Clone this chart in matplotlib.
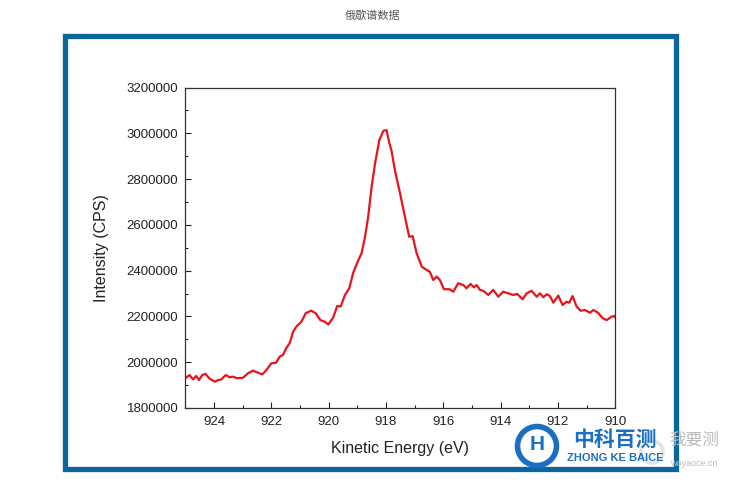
import matplotlib
matplotlib.use("Agg")
import matplotlib.pyplot as plt
from matplotlib.patches import Rectangle, Circle
from matplotlib.ticker import MultipleLocator

plt.rcParams['font.family'] = ['Liberation Sans', 'Noto Sans CJK SC', 'DejaVu Sans']

# Auger spectrum
energy = [925.00, 924.85, 924.73, 924.62, 924.52, 924.41, 924.29, 924.17, 923.97, 923.86,
          923.74, 923.59, 923.45, 923.34, 923.20, 922.99, 922.81, 922.64, 922.46, 922.31,
          922.17, 922.00, 921.83, 921.71, 921.59, 921.48, 921.36, 921.24, 921.13, 920.95,
          920.80, 920.61, 920.45, 920.29, 920.14, 920.01, 919.84, 919.70, 919.58, 919.43,
          919.28, 919.14, 918.97, 918.85, 918.73, 918.62, 918.50, 918.38, 918.23, 918.09,
          917.98, 917.88, 917.80, 917.69, 917.51, 917.34, 917.19, 917.07, 916.93, 916.75,
          916.58, 916.47, 916.35, 916.23, 916.12, 915.98, 915.79, 915.65, 915.48, 915.30,
          915.19, 915.05, 914.93, 914.84, 914.72, 914.61, 914.43, 914.26, 914.08, 913.91,
          913.73, 913.56, 913.42, 913.23, 913.09, 912.92, 912.74, 912.63, 912.51, 912.39,
          912.28, 912.16, 911.99, 911.84, 911.70, 911.61, 911.49, 911.35, 911.21, 911.06,
          910.88, 910.77, 910.60, 910.44, 910.30, 910.13, 910.05, 909.95]
intensity = [1930000, 1944000, 1925000, 1940000, 1922000, 1944000, 1949000, 1930000, 1915000, 1922000,
             1925000, 1944000, 1934000, 1937000, 1930000, 1932000, 1952000, 1963000, 1954000, 1947000,
             1966000, 1995000, 1998000, 2024000, 2032000, 2061000, 2083000, 2133000, 2155000, 2177000,
             2214000, 2225000, 2214000, 2184000, 2177000, 2165000, 2195000, 2246000, 2243000, 2294000,
             2323000, 2392000, 2444000, 2476000, 2548000, 2636000, 2767000, 2869000, 2971000, 3011000,
             3014000, 2956000, 2920000, 2840000, 2738000, 2636000, 2548000, 2551000, 2476000, 2417000,
             2403000, 2395000, 2359000, 2374000, 2359000, 2319000, 2319000, 2308000, 2345000, 2337000,
             2323000, 2342000, 2327000, 2337000, 2316000, 2312000, 2294000, 2316000, 2286000, 2308000,
             2301000, 2294000, 2298000, 2275000, 2301000, 2312000, 2286000, 2301000, 2284000, 2297000,
             2289000, 2260000, 2291000, 2250000, 2264000, 2260000, 2289000, 2243000, 2225000, 2228000,
             2216000, 2228000, 2216000, 2192000, 2184000, 2199000, 2202000, 2188000]

x_ticks = [924, 922, 920, 918, 916, 914, 912, 910]
y_ticks = [1800000, 2000000, 2200000, 2400000, 2600000, 2800000, 3000000, 3200000]

fig = plt.figure(figsize=(7.46, 4.82), dpi=100)

# page title + blue frame
fig.text(0.5, 1 - 16 / 482, "俄歇谱数据", ha="center", va="center", fontsize=8, color="#555555")
fig.patches.append(Rectangle((64.5 / 746, 1 - 469 / 482), 611 / 746, 433 / 482,
                             transform=fig.transFigure, fill=False,
                             edgecolor="#0a669b", linewidth=3.8))

ax = fig.add_axes([185.3 / 746, 1 - 408 / 482, 430 / 746, 320.5 / 482])
ax.plot(energy, intensity, color="#e8131b", linewidth=1.6)
ax.set_xlim(925, 910)
ax.set_ylim(1800000, 3200000)
ax.set_xticks(x_ticks)
ax.set_yticks(y_ticks)
ax.set_yticklabels([str(v) for v in y_ticks])
ax.xaxis.set_minor_locator(MultipleLocator(1))
ax.yaxis.set_minor_locator(MultipleLocator(100000))
ax.tick_params(which="both", direction="in", top=False, right=False,
               labelsize=9.5, colors="#222222", width=0.8)
ax.tick_params(axis="x", which="major", length=4.5, pad=6)
ax.tick_params(axis="y", which="major", length=4.5, pad=5)
ax.tick_params(which="minor", length=2.5)
for s in ax.spines.values():
    s.set_linewidth(0.9)
    s.set_color("#333333")
ax.set_xlabel("Kinetic Energy (eV)", fontsize=11.5, color="#222222", labelpad=9)
ax.set_ylabel("Intensity (CPS)", fontsize=11.5, color="#222222", labelpad=13)

# watermarks
blue = "#1b6fc2"
fig.patches.append(Circle((537, 482 - 446), 19.5, transform=None, fill=False,
                          edgecolor=blue, linewidth=4))
fig.text(537 / 746, 1 - 445 / 482, "H", ha="center", va="center", fontsize=15,
         fontweight="bold", color=blue)
fig.text(615 / 746, 1 - 439 / 482, "中科百测", ha="center", va="center", fontsize=15,
         fontweight="bold", color=blue, family=["Noto Sans CJK SC"])
fig.text(615 / 746, 1 - 458 / 482, "ZHONG KE BAICE", ha="center", va="center",
         fontsize=8, fontweight="bold", color=blue)
fig.patches.append(Circle((652, 482 - 452), 11, transform=None, fill=False,
                          edgecolor="#dddddd", linewidth=2.5, alpha=0.8))
fig.text(694 / 746, 1 - 440 / 482, "我要测", ha="center", va="center", fontsize=12,
         color="#bbbbbb", family=["Noto Sans CJK SC"])
fig.text(694 / 746, 1 - 463 / 482, "woyaoce.cn", ha="center", va="center", fontsize=6.5,
         color="#bbbbbb")

fig.savefig("out.png", dpi=100)
